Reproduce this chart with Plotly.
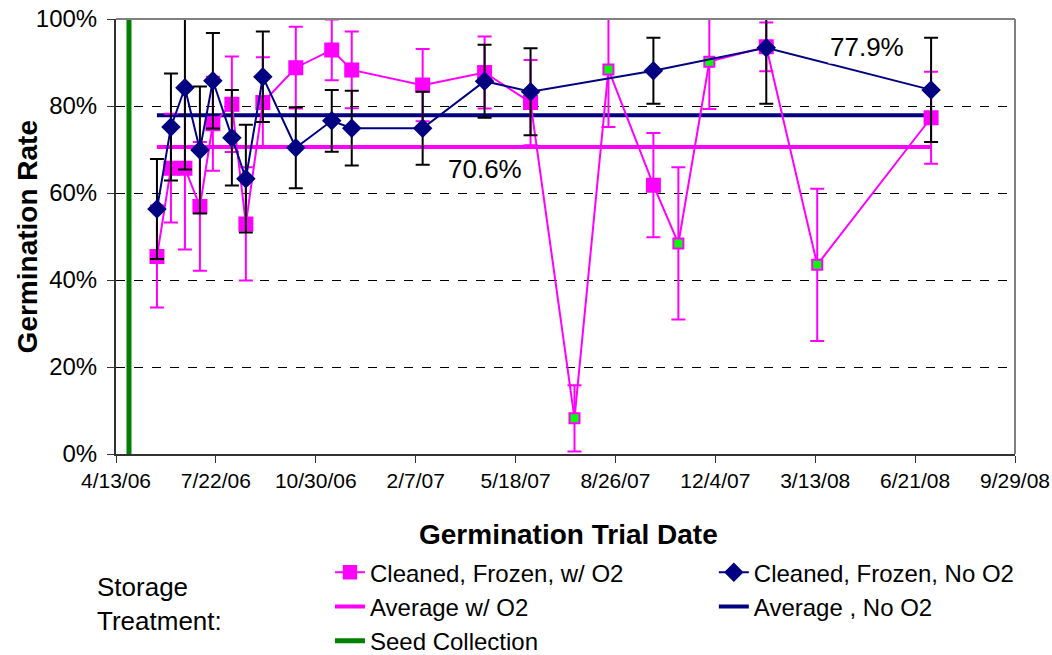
import plotly.graph_objects as go

# ---------------- data ----------------
dates_o2 = ["2006-05-24", "2006-06-07", "2006-06-21", "2006-07-06", "2006-07-19",
            "2006-08-07", "2006-08-21", "2006-09-07", "2006-10-10", "2006-11-15",
            "2006-12-05", "2007-02-14", "2007-04-17", "2007-06-02", "2007-07-16",
            "2007-08-19", "2007-10-03", "2007-10-28", "2007-11-28", "2008-01-24",
            "2008-03-15", "2008-07-07"]
rate_o2 = [45.4, 65.7, 65.7, 56.9, 75.9, 80.4, 52.9, 80.8, 88.8, 92.9, 88.3,
           84.8, 87.7, 80.8, 8.2, 88.4, 61.8, 48.4, 90.2, 93.6, 43.5, 77.3]
err_o2 = [11.7, 12.5, 18.7, 14.8, 10.8, 11.0, 13.0, 10.4, 9.4, 7.0, 8.8,
          8.3, 8.3, 9.8, 7.6, 13.2, 12.0, 17.5, 10.9, 5.6, 17.5, 10.6]
# trials drawn with a green-filled marker
green_dates = ["2007-07-16", "2007-08-19", "2007-10-28", "2007-11-28", "2008-03-15"]

dates_no = ["2006-05-24", "2006-06-07", "2006-06-21", "2006-07-06", "2006-07-19",
            "2006-08-07", "2006-08-21", "2006-09-07", "2006-10-10", "2006-11-15",
            "2006-12-05", "2007-02-14", "2007-04-17", "2007-06-02", "2007-10-03",
            "2008-01-24", "2008-07-07"]
rate_no = [56.3, 75.2, 84.2, 69.9, 85.8, 72.7, 63.3, 86.7, 70.4, 76.6, 74.9,
           74.9, 85.7, 83.3, 88.1, 93.4, 83.7]
err_no = [11.5, 12.3, 18.8, 14.6, 11.0, 11.0, 12.4, 10.4, 9.3, 7.1, 8.6,
          8.4, 8.4, 10.0, 7.6, 12.9, 12.0]

avg_o2 = 70.6
avg_no = 77.9
seed_date = "2006-04-26"

tick_dates = ["2006-04-13", "2006-07-22", "2006-10-30", "2007-02-07", "2007-05-18",
              "2007-08-26", "2007-12-04", "2008-03-13", "2008-06-21", "2008-09-29"]
tick_labels = ["4/13/06", "7/22/06", "10/30/06", "2/7/07", "5/18/07",
               "8/26/07", "12/4/07", "3/13/08", "6/21/08", "9/29/08"]
y_ticks = [0, 20, 40, 60, 80, 100]

PINK = "#FF00FF"
NAVY = "#000080"
GREEN = "#008000"
FONT = "Liberation Sans, Arial, sans-serif"

fig = go.Figure()

fill_o2 = ["#00FF00" if d in green_dates else PINK for d in dates_o2]
size_o2 = [10 if d in green_dates else 13 for d in dates_o2]

fig.add_trace(go.Scatter(
    x=[seed_date, seed_date], y=[y_ticks[0], y_ticks[-1]], mode="lines",
    line=dict(color=GREEN, width=5), name="Seed Collection",
    legend="legend", legendrank=3, legendgroup="g5"))

fig.add_trace(go.Scatter(
    x=[dates_o2[0], dates_o2[-1]], y=[avg_o2, avg_o2], mode="lines",
    line=dict(color=PINK, width=4), name="Average w/ O2",
    legend="legend", legendrank=2, legendgroup="g3"))

fig.add_trace(go.Scatter(
    x=[dates_no[0], dates_no[-1]], y=[avg_no, avg_no], mode="lines",
    line=dict(color=NAVY, width=4), name="Average , No O2",
    legend="legend2", legendrank=2, legendgroup="g4"))

fig.add_trace(go.Scatter(
    x=dates_o2, y=rate_o2, mode="lines+markers",
    line=dict(color=PINK, width=2),
    marker=dict(symbol="square", size=size_o2, color=fill_o2, opacity=1,
                line=dict(color=PINK, width=2)),
    error_y=dict(type="data", array=err_o2, visible=True, color=PINK,
                 thickness=2, width=7),
    name="Cleaned, Frozen, w/ O2", legend="legend", legendrank=1, legendgroup="g1"))

fig.add_trace(go.Scatter(
    x=dates_no, y=rate_no, mode="lines+markers",
    line=dict(color=NAVY, width=2),
    marker=dict(symbol="diamond", size=15, color=NAVY, opacity=1),
    error_y=dict(type="data", array=err_no, visible=True, color="#000000",
                 thickness=2, width=7),
    name="Cleaned, Frozen, No O2", legend="legend2", legendrank=1, legendgroup="g2"))

# average labels
fig.add_annotation(x="2007-04-17", y=65.5, text=f"{avg_o2:.1f}%", showarrow=False,
                   font=dict(size=26, color="black", family=FONT), bgcolor="white")
fig.add_annotation(x="2008-05-04", y=93.6, text=f"{avg_no:.1f}%", showarrow=False,
                   font=dict(size=26, color="black", family=FONT), bgcolor="white")

# axis titles
fig.add_annotation(xref="paper", yref="paper", x=0.503, y=-0.186,
                   text="<b>Germination Trial Date</b>", showarrow=False,
                   font=dict(size=28, color="black", family=FONT), yanchor="middle")
fig.add_annotation(xref="paper", yref="paper", x=-0.098, y=0.5,
                   text="<b>Germination Rate</b>", showarrow=False, textangle=-90,
                   font=dict(size=28, color="black", family=FONT), xanchor="center")
fig.add_annotation(xref="paper", yref="paper", x=-0.023, y=-0.306,
                   text="Storage", showarrow=False, xanchor="left", yanchor="middle",
                   font=dict(size=26, color="black", family=FONT))
fig.add_annotation(xref="paper", yref="paper", x=-0.023, y=-0.384,
                   text="Treatment:", showarrow=False, xanchor="left", yanchor="middle",
                   font=dict(size=26, color="black", family=FONT))

# grey top and right border
fig.add_shape(type="line", xref="paper", yref="paper", x0=0, x1=1, y0=1, y1=1,
              line=dict(color="#808080", width=2), layer="above")
fig.add_shape(type="line", xref="paper", yref="paper", x0=1, x1=1, y0=0, y1=1,
              line=dict(color="#808080", width=2), layer="above")

fig.update_layout(
    width=1052, height=655,
    margin=dict(l=116, r=37, t=19, b=201, autoexpand=False),
    paper_bgcolor="white", plot_bgcolor="white",
    font=dict(family=FONT, color="black"),
    showlegend=True,
    legend=dict(x=0.238, y=-0.221, xanchor="left", yanchor="top",
                orientation="v", font=dict(size=24, family=FONT),
                tracegroupgap=0, bgcolor="rgba(0,0,0,0)"),
    legend2=dict(x=0.665, y=-0.221, xanchor="left", yanchor="top",
                 orientation="v", font=dict(size=24, family=FONT),
                 tracegroupgap=0, bgcolor="rgba(0,0,0,0)"),
    xaxis=dict(type="date", range=[tick_dates[0], tick_dates[-1]],
               tickmode="array", tickvals=tick_dates, ticktext=tick_labels,
               ticks="outside", ticklen=7, tickcolor="#333333",
               showline=True, linecolor="#333333", linewidth=2,
               showgrid=False, zeroline=False, ticklabeloverflow="allow",
               tickfont=dict(size=21, family=FONT)),
    yaxis=dict(range=[y_ticks[0], y_ticks[-1]], tickmode="array", tickvals=y_ticks,
               ticktext=[f"{v}%" for v in y_ticks],
               ticks="outside", ticklen=7, tickcolor="#333333",
               showline=True, linecolor="#333333", linewidth=2,
               showgrid=True, gridcolor="#000000", gridwidth=1, griddash="dash",
               zeroline=False, tickfont=dict(size=24, family=FONT),
               ticklabelstandoff=5, ticklabeloverflow="allow"),
)

# remove the browser's default 8px body margin so the figure fills the window
fig.write_html("out.html", config={"displayModeBar": False},
               post_script="document.body.style.margin='0px';")
